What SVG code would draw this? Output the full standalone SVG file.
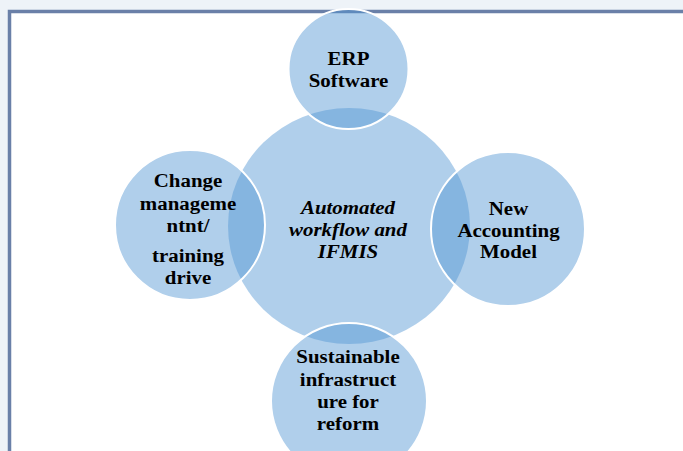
<svg xmlns="http://www.w3.org/2000/svg" width="683" height="451" viewBox="0 0 683 451">
<style>
.c{fill:rgb(82,151,212);fill-opacity:0.46}
.s{stroke:#ffffff;stroke-width:2}
text{font-family:"Liberation Serif","Times New Roman",serif;font-weight:bold;font-size:19px;fill:#000;text-anchor:middle}
.i{font-style:italic}
</style>
<rect x="0" y="0" width="683" height="451" fill="#eef3f8"/>
<rect x="9.5" y="11.5" width="700" height="500" fill="#ffffff" stroke="#6a80a8" stroke-width="3.5"/>
<g id="connectors"/>
<g id="center">
<ellipse class="c" cx="349" cy="226" rx="121" ry="118"/>
<g transform="translate(348 0) scale(1.1 1)">
<text class="i" x="0" y="214">Automated</text>
<text class="i" x="0" y="236">workflow and</text>
<text class="i" x="0" y="258">IFMIS</text>
</g>
</g>
<g id="erp">
<circle class="c s" cx="348.5" cy="69" r="60"/>
<g transform="translate(348.5 0) scale(1.1 1)">
<text x="0" y="65">ERP</text>
<text x="0" y="87">Software</text>
</g>
</g>
<g id="change">
<circle class="c s" cx="190" cy="225" r="75"/>
<g transform="translate(188 0) scale(1.1 1)">
<text x="0" y="187">Change</text>
<text x="0" y="210">manageme</text>
<text x="0" y="232">ntnt/</text>
<text x="0" y="262">training</text>
<text x="0" y="284">drive</text>
</g>
</g>
<g id="accounting">
<circle class="c s" cx="508" cy="229" r="77"/>
<g transform="translate(508.5 0) scale(1.1 1)">
<text x="0" y="215">New</text>
<text x="0" y="237">Accounting</text>
<text x="0" y="258">Model</text>
</g>
</g>
<g id="infrastructure">
<circle class="c s" cx="349" cy="401" r="78"/>
<g transform="translate(348 0) scale(1.1 1)">
<text x="0" y="363">Sustainable</text>
<text x="0" y="386">infrastruct</text>
<text x="0" y="408">ure for</text>
<text x="0" y="430">reform</text>
</g>
</g>
</svg>
